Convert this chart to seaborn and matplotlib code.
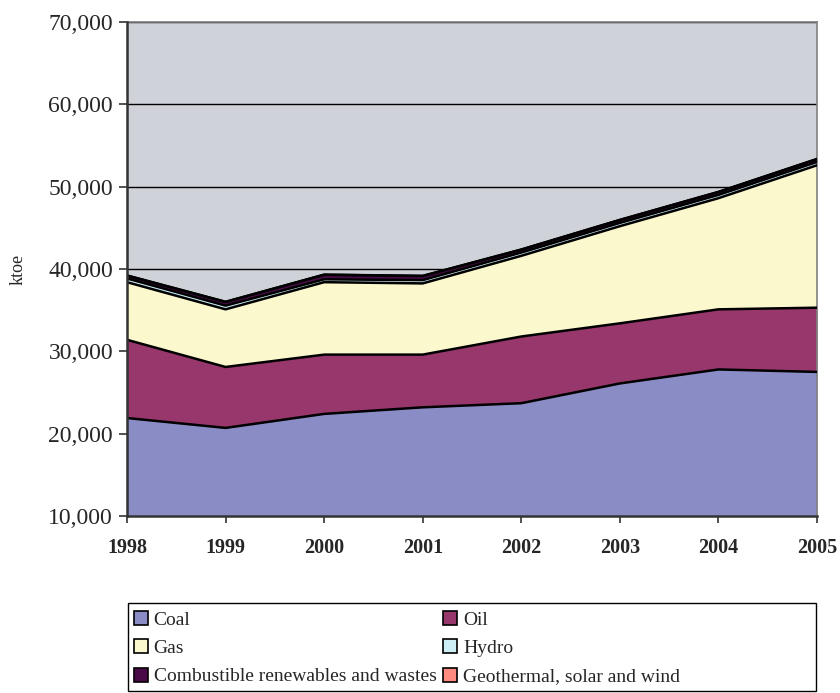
import numpy as np
import pandas as pd
import matplotlib
matplotlib.use("Agg")
import matplotlib.pyplot as plt
from matplotlib.patches import Patch, Rectangle
from matplotlib.ticker import FuncFormatter, MultipleLocator
import seaborn as sns

# Electricity generation inputs by fuel, ktoe
years = [1998, 1999, 2000, 2001, 2002, 2003, 2004, 2005]
coal = [21900, 20700, 22400, 23200, 23700, 26100, 27800, 27500]
oil = [9500, 7400, 7200, 6400, 8100, 7300, 7300, 7800]
gas = [7000, 7000, 8800, 8650, 9800, 11800, 13500, 17300]
hydro = [450, 450, 350, 400, 400, 400, 400, 400]
combustible = [350, 450, 550, 500, 350, 350, 350, 350]
geothermal = [15, 15, 15, 15, 15, 15, 15, 15]

series_names = ["Coal", "Oil", "Gas", "Hydro",
                "Combustible renewables and wastes", "Geothermal, solar and wind"]
series_values = [coal, oil, gas, hydro, combustible, geothermal]
colors = ["#8A8CC6", "#97376C", "#FAF8CC", "#CDEEF5", "#4A0A48", "#FF8A80"]

sns.set_style("white")
plt.rcParams["font.family"] = ["Liberation Serif", "DejaVu Serif"]

df = pd.DataFrame({"year": years})
for name, vals in zip(series_names, series_values):
    df[name] = vals
cum = df[series_names].cumsum(axis=1)

W, H = 840, 693
fig = plt.figure(figsize=(W / 100, H / 100), dpi=100)
ax = fig.add_axes([127 / W, 1 - 516 / H, (817 - 127) / W, (516 - 22) / H])
ax.set_facecolor("#D0D2DA")

baseline = 10000
lower = np.full(len(years), baseline, dtype=float)
for name, color in zip(series_names, colors):
    upper = cum[name].to_numpy(dtype=float)
    ax.fill_between(df["year"], lower, upper, color=color, linewidth=0, zorder=2)
    lower = upper

# outline of each stacked layer
long = cum.assign(year=df["year"]).melt(id_vars="year", var_name="series", value_name="top")
sns.lineplot(data=long, x="year", y="top", units="series", estimator=None,
             color="black", linewidth=1.8, ax=ax, zorder=3, legend=False)

ax.set_xlim(1998, 2005)
ax.set_ylim(10000, 70000)
ax.yaxis.set_major_locator(MultipleLocator(10000))
ax.yaxis.set_major_formatter(FuncFormatter(lambda v, p: f"{int(v):,}"))
ax.set_xticks(years)
ax.set_xticklabels([str(y) for y in years], fontweight="bold", fontsize=14.5)
ax.grid(axis="y", color="black", linewidth=1.0, zorder=1)
ax.set_axisbelow(True)
ax.tick_params(axis="y", labelsize=17, length=6, width=1.2, direction="out",
               left=True, color="#333333", pad=4)
ax.tick_params(axis="x", length=5, width=1.2, direction="out", bottom=True,
               color="#333333", pad=11)
ax.set_xlabel("")
ax.set_ylabel("ktoe", fontsize=13, labelpad=16)

for side in ["top", "right"]:
    ax.spines[side].set_color("#808080")
    ax.spines[side].set_linewidth(1.2)
for side in ["left", "bottom"]:
    ax.spines[side].set_color("#333333")
    ax.spines[side].set_linewidth(1.8)
ax.spines["left"].set_zorder(5)
ax.spines["bottom"].set_zorder(5)

# legend box below the chart
box_left, box_right, box_top, box_bottom = 128, 816, 603, 691
fig.patches.append(Rectangle((box_left / W, 1 - box_bottom / H),
                             (box_right - box_left) / W, (box_bottom - box_top) / H,
                             transform=fig.transFigure, facecolor="white",
                             edgecolor="black", linewidth=1.0, zorder=0))

# two columns, filled row by row
order = [0, 2, 4, 1, 3, 5]
handles = [Patch(facecolor=colors[i], edgecolor="black", linewidth=1.2) for i in order]
labels = [series_names[i] for i in order]
leg = fig.legend(handles, labels, ncol=2, loc="upper left",
                 bbox_to_anchor=(box_left / W, 1 - (box_top + 2) / H),
                 frameon=False, fontsize=14,
                 handlelength=0.72, handleheight=0.72, handletextpad=0.3,
                 labelspacing=0.55, borderpad=0.3, borderaxespad=0.0,
                 columnspacing=0.35)

fig.savefig("out.png", dpi=100)
